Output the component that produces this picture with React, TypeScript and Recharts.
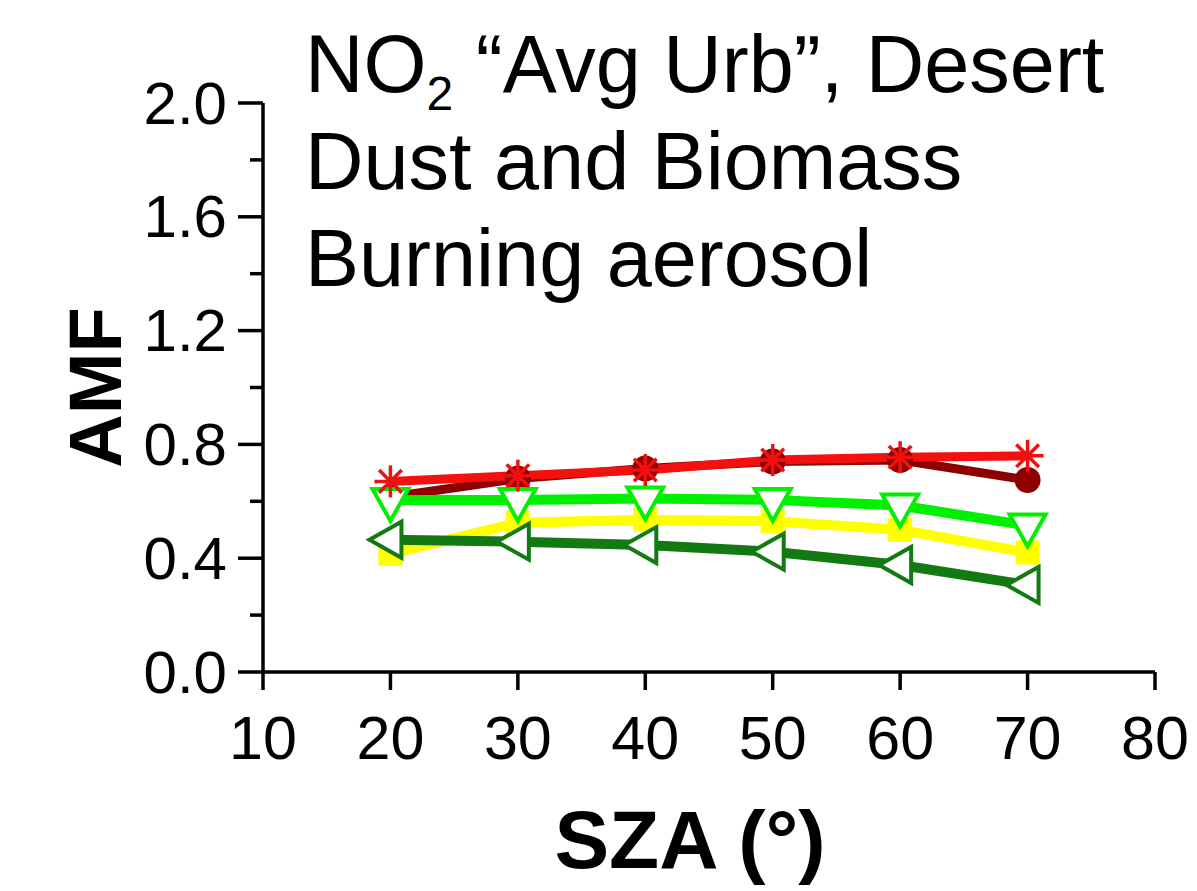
import React from 'react';
import { LineChart, Line, XAxis, YAxis, Label } from 'recharts';

const sza = [20, 30, 40, 50, 60, 70];
const redStar = [0.67, 0.69, 0.71, 0.745, 0.755, 0.76];
const darkRedCircle = [0.615, 0.68, 0.715, 0.74, 0.745, 0.675];
const greenDown = [0.605, 0.605, 0.61, 0.605, 0.585, 0.515];
const yellowSquare = [0.415, 0.525, 0.535, 0.53, 0.5, 0.42];
const darkGreenLeft = [0.465, 0.458, 0.446, 0.423, 0.376, 0.306];

const xTicks = [10, 20, 30, 40, 50, 60, 70, 80];
const yTicks = [0, 0.2, 0.4, 0.6, 0.8, 1.0, 1.2, 1.4, 1.6, 1.8, 2.0];
const yMajor = [0, 0.4, 0.8, 1.2, 1.6, 2.0];

const data = sza.map((s, i) => ({
  sza: s,
  red: redStar[i],
  darkRed: darkRedCircle[i],
  green: greenDown[i],
  yellow: yellowSquare[i],
  darkGreen: darkGreenLeft[i],
}));

const FONT = '"Liberation Sans", Arial, Helvetica, sans-serif';

const StarDot = (p: any) => {
  const { cx, cy } = p;
  const r = 16;
  const spokes = [0, 45, 90, 135].map((a) => {
    const rad = (a * Math.PI) / 180;
    const dx = Math.cos(rad) * r;
    const dy = Math.sin(rad) * r;
    return <line key={a} x1={cx - dx} y1={cy - dy} x2={cx + dx} y2={cy + dy} stroke="#f01010" strokeWidth={3.5} />;
  });
  return <g key={`s-${cx}`}>{spokes}</g>;
};

const CircleDot = (p: any) => (
  <circle key={`c-${p.cx}`} cx={p.cx} cy={p.cy} r={13} fill="#8e0000" />
);

const DownTriDot = (p: any) => {
  const { cx, cy } = p;
  const w = 18;
  return (
    <polygon
      key={`d-${cx}`}
      points={`${cx - w},${cy - 11} ${cx + w},${cy - 11} ${cx},${cy + 21}`}
      fill="#ffffff"
      stroke="#00f000"
      strokeWidth={4}
    />
  );
};

const SquareDot = (p: any) => (
  <rect key={`q-${p.cx}`} x={p.cx - 12} y={p.cy - 12} width={24} height={24} fill="#ffff00" />
);

const LeftTriDot = (p: any) => {
  const { cx, cy } = p;
  return (
    <polygon
      key={`l-${cx}`}
      points={`${cx - 21},${cy} ${cx + 11},${cy - 18} ${cx + 11},${cy + 18}`}
      fill="#ffffff"
      stroke="#137a13"
      strokeWidth={4}
    />
  );
};

const YTick = (p: any) => {
  const { x, y, payload } = p;
  const v = payload.value;
  const major = yMajor.some((m) => Math.abs(m - v) < 1e-6);
  return (
    <g>
      <line x1={x - (major ? 25 : 13)} y1={y} x2={x} y2={y} stroke="#000" strokeWidth={3.5} />
      {major && (
        <text x={x - 36} y={y} textAnchor="end" dominantBaseline="central" fontSize={60} fontFamily={FONT} fill="#000">
          {v.toFixed(1)}
        </text>
      )}
    </g>
  );
};

const XTick = (p: any) => {
  const { x, y, payload } = p;
  return (
    <g>
      <line x1={x} y1={y} x2={x} y2={y + 18} stroke="#000" strokeWidth={3.5} />
      <text x={x} y={y + 66} textAnchor="middle" dominantBaseline="central" fontSize={61} fontFamily={FONT} fill="#000">
        {payload.value}
      </text>
    </g>
  );
};

export default function App() {
  return (
    <div style={{ position: 'relative', width: 1197, height: 891, background: '#fff', fontFamily: FONT }}>
      <style>{`body{margin:0}`}</style>
      <LineChart width={1197} height={891} data={data} margin={{ top: 103, right: 42, left: 0, bottom: 0 }}>
        <XAxis
          dataKey="sza"
          type="number"
          domain={[10, 80]}
          ticks={xTicks}
          height={219}
          tickSize={0}
          tickMargin={0}
          tickLine={false}
          axisLine={{ stroke: '#000', strokeWidth: 3.5 }}
          tick={<XTick />}
          interval={0}
        >
          <Label
            content={(props: any) => {
              const vb = props.viewBox;
              return (
                <text x={vb.x + vb.width / 2 - 19} y={vb.y + 196} textAnchor="middle" fontSize={82} fontWeight="bold" fontFamily={FONT} fill="#000">
                  SZA (°)
                </text>
              );
            }}
          />
        </XAxis>
        <YAxis
          type="number"
          domain={[0, 2]}
          ticks={yTicks}
          width={263}
          tickSize={0}
          tickMargin={0}
          tickLine={false}
          axisLine={{ stroke: '#000', strokeWidth: 3.5 }}
          tick={<YTick />}
          interval={0}
        >
          <Label
            content={(props: any) => {
              const vb = props.viewBox;
              const cx = 95;
              const cy = vb.y + vb.height / 2;
              return (
                <text
                  x={cx}
                  y={cy}
                  transform={`rotate(-90 ${cx} ${cy})`}
                  textAnchor="middle"
                  dominantBaseline="central"
                  fontSize={74}
                  fontWeight="bold"
                  fontFamily={FONT}
                  fill="#000"
                >
                  AMF
                </text>
              );
            }}
          />
        </YAxis>
        <Line dataKey="yellow" stroke="#ffff00" strokeWidth={10} dot={SquareDot} isAnimationActive={false} />
        <Line dataKey="darkGreen" stroke="#137a13" strokeWidth={10} dot={LeftTriDot} isAnimationActive={false} />
        <Line dataKey="darkRed" stroke="#8e0000" strokeWidth={9} dot={CircleDot} isAnimationActive={false} />
        <Line dataKey="green" stroke="#00f000" strokeWidth={10} dot={DownTriDot} isAnimationActive={false} />
        <Line dataKey="red" stroke="#f51010" strokeWidth={9} dot={StarDot} isAnimationActive={false} />
      </LineChart>
      <div
        style={{
          position: 'absolute',
          left: 305,
          top: 16,
          fontSize: 81,
          lineHeight: '97px',
          color: '#000',
          whiteSpace: 'nowrap',
        }}
      >
        <div>
          NO<sub style={{ fontSize: 48, lineHeight: 0, verticalAlign: 'baseline', position: 'relative', top: 18 }}>2</sub> “Avg Urb”, Desert
        </div>
        <div>Dust and Biomass</div>
        <div>Burning aerosol</div>
      </div>
    </div>
  );
}
